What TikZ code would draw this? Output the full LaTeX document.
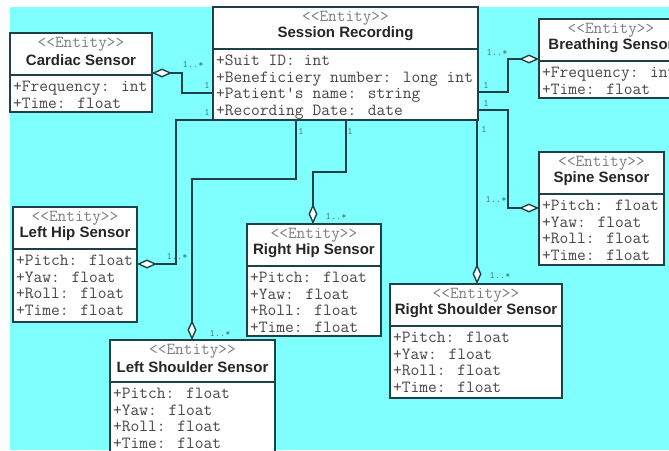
\documentclass[tikz,border=0pt]{standalone}
\usepackage{fontspec}
\setmainfont{Liberation Sans}
\usetikzlibrary{arrows.meta}
\definecolor{bgcyan}{RGB}{128,255,255}
\definecolor{linec}{RGB}{28,66,72}
\definecolor{stereoc}{RGB}{125,125,125}
\definecolor{attrc}{RGB}{75,68,68}
\definecolor{multc}{RGB}{70,120,125}
\tikzset{
  ebox/.style={draw=linec, line width=1.8pt, fill=white, anchor=north west,
    inner sep=0pt, outer sep=0pt},
  esep/.style={linec, line width=1.6pt},
  stereo/.style={font=\ttfamily\fontsize{16.8}{17}\selectfont, text=stereoc, inner sep=0pt},
  etitle/.style={font=\bfseries\fontsize{15}{16}\selectfont, text=black!85, inner sep=0pt},
  eattr/.style={font=\ttfamily\fontsize{17}{17}\selectfont, text=attrc, anchor=west,
    inner sep=0pt, text height=10pt, text depth=3pt},
  agg/.style={draw=linec, line width=2.4pt,
    -{Diamond[fill=white, length=20pt, width=9pt, line width=1.4pt]}},
  mult/.style={font=\ttfamily\fontsize{10}{10}\selectfont, text=multc, inner sep=1pt},
}
% entity box: name, x, y (top left), width, height, title, attributes
\newcommand{\entity}[7]{%
  \node[ebox, minimum width=#4pt, minimum height=#5pt] (#1) at (#2,#3) {};
  \draw[esep] ([yshift=-42pt]#1.north west) -- ([yshift=-42pt]#1.north east);
  \node[stereo] (#1-st) at ([yshift=-11pt]#1.north) {<<Entity>>};
  \node[etitle] (#1-t) at ([yshift=-27pt]#1.north) {#6};
  \foreach \a [count=\i from 0] in {#7} {
    \node[eattr] (#1-a\i) at ([xshift=3pt, yshift={-(55+16.5*\i)*1pt}]#1.north west) {\a};
  }
}

\begin{document}
\begin{tikzpicture}[x=1pt, y=-1pt]
    \useasboundingbox (0,0) rectangle (669,450);
    \clip (0,0) rectangle (669,450);
    % ---------------- background ----------------
    \fill[white] (0,0) rectangle (669,450);
    \fill[bgcyan] (10,7) rectangle (669,450);
    % ---------------- entities ----------------
    \entity{sess}{213}{7}{265}{113}{Session Recording}%
      {+Suit ID: int, +Beneficiery number: long int, +Patient's name: string, +Recording Date: date}
    \entity{card}{10}{33}{142}{79}{Cardiac Sensor}{+Frequency: int, +Time: float}
    \entity{breath}{539}{19}{144}{79}{Breathing Sensor}{+Frequency: int, +Time: float}
    \entity{spine}{539}{152}{125}{113}{Spine Sensor}%
      {+Pitch: float, +Yaw: float, +Roll: float, +Time: float}
    \entity{lhip}{13}{207}{124}{115}{Left Hip Sensor}%
      {+Pitch: float, +Yaw: float, +Roll: float, +Time: float}
    \entity{rhip}{247}{224}{134}{112}{Right Hip Sensor}%
      {+Pitch: float, +Yaw: float, +Roll: float, +Time: float}
    \entity{lsh}{110}{340}{165}{125}{Left Shoulder Sensor}%
      {+Pitch: float, +Yaw: float, +Roll: float, +Time: float}
    \entity{rsh}{390}{284}{172}{114}{Right Shoulder Sensor}%
      {+Pitch: float, +Yaw: float, +Roll: float, +Time: float}
    % ---------------- aggregations ----------------
    \draw[agg] (sess.west |- 0,93) -| (182,73) -- (card.east |- 0,73);
    \draw[agg] (sess.south west) -| (176,264) -- (lhip.east |- 0,264);
    \draw[agg] (sess.south -| 296,0) |- (192,179) -- (lsh.north -| 192,0);
    \draw[agg] (sess.south -| 346,0) |- (313,172) -- (rhip.north -| 313,0);
    \draw[agg] (sess.south -| 477,0) -- (rsh.north -| 477,0);
    \draw[agg] (sess.east |- 0,92) -| (508,59) -- (breath.west |- 0,59);
    \draw[agg] (sess.east |- 0,110) -| (508,208) -- (spine.west |- 0,208);
    % multiplicities
    \foreach \n/\x/\y/\t in {card1/193/64/1..*, card2/207/85/1, lhip1/177/256/1..*,
      lhip2/207/112/1, lsh1/220/333/1..*, lsh2/301/131/1, rhip1/336/216/1..*,
      rhip2/350/131/1, rsh1/500/275/1..*, rsh2/484/129/1, br1/497/52/1..*,
      br2/486/85/1, sp1/496/199/1..*, sp2/486/103/1}
      { \node[mult] (m-\n) at (\x,\y) {\t}; }
\end{tikzpicture}
\end{document}
